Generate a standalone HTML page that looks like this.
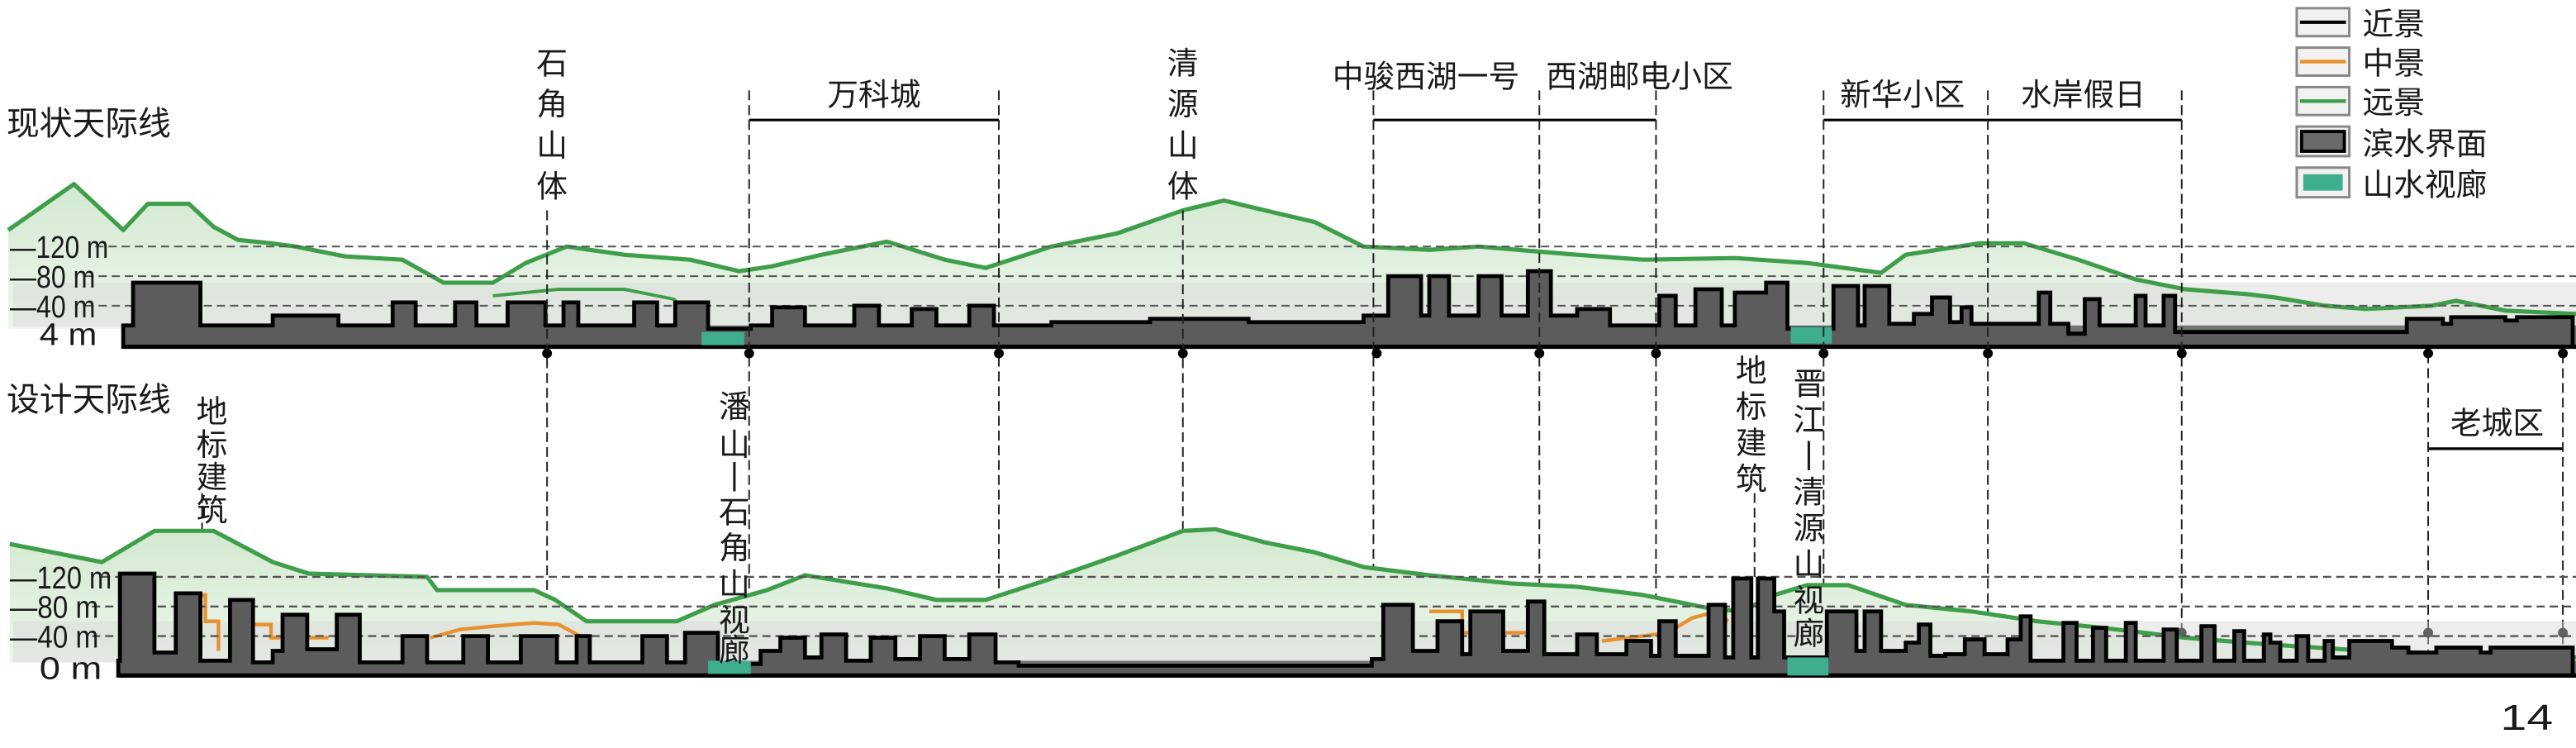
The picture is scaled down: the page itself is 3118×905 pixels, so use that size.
<!DOCTYPE html>
<html><head><meta charset="utf-8"><style>
html,body{margin:0;padding:0;background:#fff;}
svg{display:block;}
text{font-family:"Liberation Sans","Noto Sans CJK SC",sans-serif;fill:#1a1a1a;}
</style></head><body>
<svg width="3118" height="905" viewBox="0 0 1568 455.1" preserveAspectRatio="none" xmlns="http://www.w3.org/2000/svg">
<defs>
<linearGradient id="mg" x1="0" y1="0" x2="0" y2="1"><stop offset="0" stop-color="#d2e9d0"/><stop offset="1" stop-color="#eef6ec"/></linearGradient>
</defs>
<!-- TOP PANEL -->
<text x="4" y="82" font-size="20">现状天际线</text>
<!-- mountain fill -->
<polygon fill="url(#mg)" points="5,140 45,112 75,140 90,124 115,124 130,138 145,146 165,148 180,150 210,156 245,158 270,172 300,172 320,160 345,150 380,155 420,158 450,165 470,162 500,155 540,147 575,158 600,163 640,150 680,142 720,128 745,122 770,128 800,135 830,150 870,152 900,150 960,155 1000,158 1056,157 1100,160 1145,166 1160,155 1205,148 1232,148 1265,158 1300,170 1330,176 1368,179 1385,181 1415,186 1440,188 1480,186 1495,183 1525,189 1568,191 1568,200 5,200"/>
<rect x="8" y="172" width="1560" height="27" fill="#d6d6d6" opacity="0.45"/>
<polyline fill="none" stroke="#3f9e4a" stroke-width="2.6" stroke-linejoin="round" points="5,140 45,112 75,140 90,124 115,124 130,138 145,146 165,148 180,150 210,156 245,158 270,172 300,172 320,160 345,150 380,155 420,158 450,165 470,162 500,155 540,147 575,158 600,163 640,150 680,142 720,128 745,122 770,128 800,135 830,150 870,152 900,150 960,155 1000,158 1056,157 1100,160 1145,166 1160,155 1205,148 1232,148 1265,158 1300,170 1330,176 1368,179 1385,181 1415,186 1440,188 1480,186 1495,183 1525,189 1568,191"/>
<polyline fill="none" stroke="#3f9e4a" stroke-width="2" points="300,180 340,176 380,176 410,182 430,198"/>
<g stroke="#555" stroke-width="1" stroke-dasharray="5,3"><line x1="58" y1="150" x2="1568" y2="150"/><line x1="52" y1="168" x2="1568" y2="168"/><line x1="52" y1="186" x2="1568" y2="186"/></g>
<text x="6" y="157" font-size="19" textLength="60" lengthAdjust="spacingAndGlyphs">—120 m</text>
<text x="6" y="175" font-size="19" textLength="52" lengthAdjust="spacingAndGlyphs">—80 m</text>
<text x="6" y="193" font-size="19" textLength="52" lengthAdjust="spacingAndGlyphs">—40 m</text>
<text x="24" y="210" font-size="19" textLength="35" lengthAdjust="spacingAndGlyphs">4 m</text>
<rect x="75" y="198" width="1493" height="13" fill="#737373"/>
<path fill="#5c5c5c" stroke="#000" stroke-width="2.4" stroke-linejoin="miter" d="M75,211 L75,198 L81,198 L81,172 L122,172 L122,198 L166,198 L166,192 L206,192 L206,198 L239,198 L239,184 L253,184 L253,198 L277,198 L277,184 L290,184 L290,198 L309,198 L309,184 L332,184 L332,198 L343,198 L343,184 L352,184 L352,198 L386,198 L386,184 L400,184 L400,198 L411,198 L411,184 L431,184 L431,200 L457,200 L457,198 L470,198 L470,187 L490,187 L490,198 L520,198 L520,186 L535,186 L535,198 L555,198 L555,188 L570,188 L570,198 L590,198 L590,186 L605,186 L605,198 L640,198 L640,196 L700,196 L700,194 L760,194 L760,196 L830,196 L830,192 L845,192 L845,168 L865,168 L865,192 L870,192 L870,168 L882,168 L882,192 L900,192 L900,168 L914,168 L914,192 L930,192 L930,165 L944,165 L944,192 L960,192 L960,188 L980,188 L980,198 L1010,198 L1010,180 L1020,180 L1020,198 L1032,198 L1032,176 L1048,176 L1048,198 L1056,198 L1056,178 L1075,178 L1075,172 L1088,172 L1088,200 L1116,200 L1116,174 L1131,174 L1131,198 L1135,198 L1135,174 L1150,174 L1150,197 L1165,197 L1165,191 L1176,191 L1176,181 L1187,181 L1187,196 L1194,196 L1194,187 L1200,187 L1200,197 L1241,197 L1241,178 L1248,178 L1248,197 L1259,197 L1259,203 L1269,203 L1269,182 L1278,182 L1278,198 L1300,198 L1300,180 L1306,180 L1306,198 L1317,198 L1317,180 L1324,180 L1324,202 L1465,202 L1465,194 L1487,194 L1487,197 L1492,197 L1492,193 L1525,193 L1525,195 L1532,195 L1532,193 L1566,193 L1566,211 Z"/>
<line x1="75" y1="211" x2="1568" y2="211" stroke="#000" stroke-width="2.6"/>
<rect x="427" y="202" width="26" height="8" fill="#3fae8f"/>
<rect x="1090" y="199" width="25" height="10" fill="#3fae8f"/>
<!-- top labels -->
<g font-size="19" text-anchor="middle">
<text x="336" y="45">石</text><text x="336" y="70">角</text><text x="336" y="95">山</text><text x="336" y="120">体</text>
<text x="720" y="45">清</text><text x="720" y="70">源</text><text x="720" y="95">山</text><text x="720" y="120">体</text>
<text x="532" y="64">万科城</text>
<text x="868" y="53">中骏西湖一号</text>
<text x="998" y="53">西湖邮电小区</text>
<text x="1158" y="64">新华小区</text>
<text x="1268" y="64">水岸假日</text>
</g>
<g stroke="#000" stroke-width="1.6"><line x1="456" y1="73" x2="608" y2="73"/><line x1="836" y1="73" x2="1008" y2="73"/><line x1="1110" y1="73" x2="1328" y2="73"/><line x1="1478" y1="273" x2="1560" y2="273"/></g>
<text x="1520" y="264" font-size="19" text-anchor="middle">老城区</text>
<!-- vertical dashed lines -->
<g stroke="#222" stroke-width="1" stroke-dasharray="6,3">
<line x1="456" y1="55" x2="456" y2="400"/><line x1="608" y1="55" x2="608" y2="400"/>
<line x1="836" y1="55" x2="836" y2="400"/><line x1="937" y1="55" x2="937" y2="400"/><line x1="1008" y1="55" x2="1008" y2="400"/>
<line x1="1110" y1="55" x2="1110" y2="400"/><line x1="1210" y1="55" x2="1210" y2="400"/><line x1="1328" y1="55" x2="1328" y2="400"/>
<line x1="333" y1="128" x2="333" y2="400"/><line x1="720" y1="128" x2="720" y2="400"/>
<line x1="1478" y1="215" x2="1478" y2="400"/><line x1="1560" y1="215" x2="1560" y2="400"/>
<line x1="123" y1="300" x2="123" y2="352"/><line x1="1068" y1="300" x2="1068" y2="352"/>
</g>
<g fill="#000">
<circle cx="333" cy="215" r="3"/><circle cx="456" cy="215" r="3"/><circle cx="608" cy="215" r="3"/><circle cx="720" cy="215" r="3"/><circle cx="838" cy="215" r="3"/><circle cx="937" cy="215" r="3"/><circle cx="1008" cy="215" r="3"/><circle cx="1110" cy="215" r="3"/><circle cx="1210" cy="215" r="3"/><circle cx="1328" cy="215" r="3"/><circle cx="1478" cy="215" r="3"/><circle cx="1560" cy="215" r="3"/>
<circle cx="456" cy="385" r="3"/><circle cx="608" cy="385" r="3"/><circle cx="836" cy="385" r="3"/><circle cx="1008" cy="385" r="3"/><circle cx="1110" cy="385" r="3"/><circle cx="1328" cy="385" r="3"/><circle cx="1478" cy="385" r="3"/><circle cx="1560" cy="385" r="3"/>
</g>
<!-- LOWER PANEL -->
<text x="4" y="250" font-size="20">设计天际线</text>
<polygon fill="url(#mg)" points="6,331 62,342 94,323 130,323 166,342 188,349 260,351 266,359 325,359 338,365 357,378 412,378 435,368 467,359 490,350 509,353 540,358 570,365 600,365 640,352 680,338 720,323 740,322 770,330 800,336 830,345 870,350 920,355 960,357 1000,362 1040,370 1060,372 1080,362 1100,356 1125,356 1160,368 1200,372 1240,378 1280,382 1330,388 1380,392 1440,396 1500,398 1568,400 1568,403 6,403"/>
<rect x="8" y="378" width="1560" height="25" fill="#d6d6d6" opacity="0.45"/>
<polyline fill="none" stroke="#3f9e4a" stroke-width="2.6" stroke-linejoin="round" points="6,331 62,342 94,323 130,323 166,342 188,349 260,351 266,359 325,359 338,365 357,378 412,378 435,368 467,359 490,350 509,353 540,358 570,365 600,365 640,352 680,338 720,323 740,322 770,330 800,336 830,345 870,350 920,355 960,357 1000,362 1040,370 1060,372 1080,362 1100,356 1125,356 1160,368 1200,372 1240,378 1280,382 1330,388 1380,392 1440,396 1500,398 1568,400"/>
<g fill="none" stroke="#e8912f" stroke-width="2.2">
<polyline points="122,362 125,362 125,378 133,378 133,396"/>
<polyline points="150,380 165,380 165,388 200,388"/>
<polyline points="262,388 280,383 300,381 325,379 340,380 355,388"/>
<polyline points="870,372 890,372 890,385 930,385"/>
<polyline points="975,390 1000,387 1015,385 1030,376 1045,372 1052,378"/>
</g>
<g stroke="#555" stroke-width="1.2" stroke-dasharray="5,3"><line x1="62" y1="351" x2="1568" y2="351"/><line x1="56" y1="369" x2="1568" y2="369"/><line x1="56" y1="387" x2="1568" y2="387"/></g>
<text x="6" y="358" font-size="19" textLength="62" lengthAdjust="spacingAndGlyphs">—120 m</text>
<text x="6" y="376" font-size="19" textLength="54" lengthAdjust="spacingAndGlyphs">—80 m</text>
<text x="6" y="394" font-size="19" textLength="54" lengthAdjust="spacingAndGlyphs">—40 m</text>
<text x="24" y="413" font-size="19" textLength="38" lengthAdjust="spacingAndGlyphs">0 m</text>
<rect x="72" y="402" width="1496" height="9" fill="#737373"/>
<path fill="#5c5c5c" stroke="#000" stroke-width="2.4" d="M72,411 L72,402 L73,402 L73,349 L94,349 L94,397 L107,397 L107,361 L122,361 L122,402 L140,402 L140,365 L154,365 L154,403 L166,403 L166,396 L172,396 L172,374 L187,374 L187,395 L205,395 L205,374 L219,374 L219,403 L245,403 L245,387 L260,387 L260,403 L282,403 L282,387 L297,387 L297,403 L317,403 L317,387 L339,387 L339,403 L351,403 L351,387 L359,387 L359,403 L391,403 L391,387 L406,387 L406,403 L417,403 L417,385 L437,385 L437,404 L463,404 L463,396 L475,396 L475,388 L490,388 L490,400 L500,400 L500,386 L515,386 L515,402 L530,402 L530,388 L545,388 L545,401 L560,401 L560,387 L575,387 L575,401 L590,401 L590,386 L606,386 L606,403 L620,403 L620,405 L835,405 L835,401 L842,401 L842,368 L860,368 L860,396 L875,396 L875,378 L890,378 L890,398 L895,398 L895,372 L915,372 L915,396 L930,396 L930,366 L940,366 L940,398 L960,398 L960,386 L972,386 L972,398 L990,398 L990,390 L1005,390 L1005,399 L1010,399 L1010,378 L1020,378 L1020,399 L1040,399 L1040,368 L1050,368 L1050,400 L1055,400 L1055,352 L1066,352 L1066,400 L1070,400 L1070,352 L1080,352 L1080,372 L1086,372 L1086,400 L1112,400 L1112,372 L1130,372 L1130,396 L1135,396 L1135,372 L1145,372 L1145,396 L1160,396 L1160,391 L1168,391 L1168,380 L1175,380 L1175,399 L1184,399 L1184,398 L1196,398 L1196,389 L1208,389 L1208,398 L1222,398 L1222,389 L1230,389 L1230,375 L1236,375 L1236,402 L1256,402 L1256,379 L1264,379 L1264,402 L1274,402 L1274,382 L1282,382 L1282,402 L1294,402 L1294,379 L1300,379 L1300,402 L1317,402 L1317,383 L1325,383 L1325,402 L1340,402 L1340,381 L1348,381 L1348,402 L1360,402 L1360,384 L1366,384 L1366,402 L1378,402 L1378,386 L1382,386 L1382,391 L1388,391 L1388,402 L1398,402 L1398,387 L1405,387 L1405,402 L1415,402 L1415,390 L1420,390 L1420,400 L1430,400 L1430,390 L1456,390 L1456,394 L1466,394 L1466,397 L1483,397 L1483,394 L1510,394 L1510,397 L1516,397 L1516,394 L1566,394 L1566,411 Z"/>
<line x1="72" y1="411" x2="1568" y2="411" stroke="#000" stroke-width="2.6"/>
<rect x="431" y="402" width="26" height="8" fill="#3fae8f"/>
<rect x="1088" y="400" width="25" height="11" fill="#3fae8f"/>
<!-- lower vertical labels -->
<g font-size="19" text-anchor="middle">
<text x="129" y="257">地</text><text x="129" y="277">标</text><text x="129" y="297">建</text><text x="129" y="317">筑</text>
<text x="447" y="254">潘</text><text x="447" y="277">山</text><text x="447" y="295">|</text><text x="447" y="318">石</text><text x="447" y="340">角</text><text x="447" y="362">山</text><text x="447" y="384">视</text><text x="447" y="402">廊</text>
<text x="1066" y="232">地</text><text x="1066" y="254">标</text><text x="1066" y="276">建</text><text x="1066" y="298">筑</text>
<text x="1101" y="240">晋</text><text x="1101" y="262">江</text><text x="1101" y="282">|</text><text x="1101" y="306">清</text><text x="1101" y="328">源</text><text x="1101" y="350">山</text><text x="1101" y="372">视</text><text x="1101" y="392">廊</text>
</g>
<!-- legend -->
<g stroke="#888" stroke-width="1.5" fill="#f2f2f2">
<rect x="1398" y="5" width="32" height="17"/><rect x="1398" y="29" width="32" height="17"/><rect x="1398" y="53" width="32" height="17"/><rect x="1398" y="77" width="32" height="18"/><rect x="1398" y="102" width="32" height="18"/>
</g>
<line x1="1400" y1="13.5" x2="1428" y2="13.5" stroke="#000" stroke-width="2"/>
<line x1="1400" y1="37.5" x2="1428" y2="37.5" stroke="#e8912f" stroke-width="2.2"/>
<line x1="1400" y1="61.5" x2="1428" y2="61.5" stroke="#3f9e4a" stroke-width="2.2"/>
<rect x="1401" y="80" width="26" height="12" fill="#6a6a6a" stroke="#000" stroke-width="2"/>
<rect x="1402" y="106" width="24" height="10" fill="#3fae8f"/>
<g font-size="19"><text x="1438" y="21">近景</text><text x="1438" y="45">中景</text><text x="1438" y="69">远景</text><text x="1438" y="94">滨水界面</text><text x="1438" y="119">山水视廊</text></g>
<text x="1522" y="444" font-size="22" textLength="32" lengthAdjust="spacingAndGlyphs">14</text>
</svg>
</body></html>
